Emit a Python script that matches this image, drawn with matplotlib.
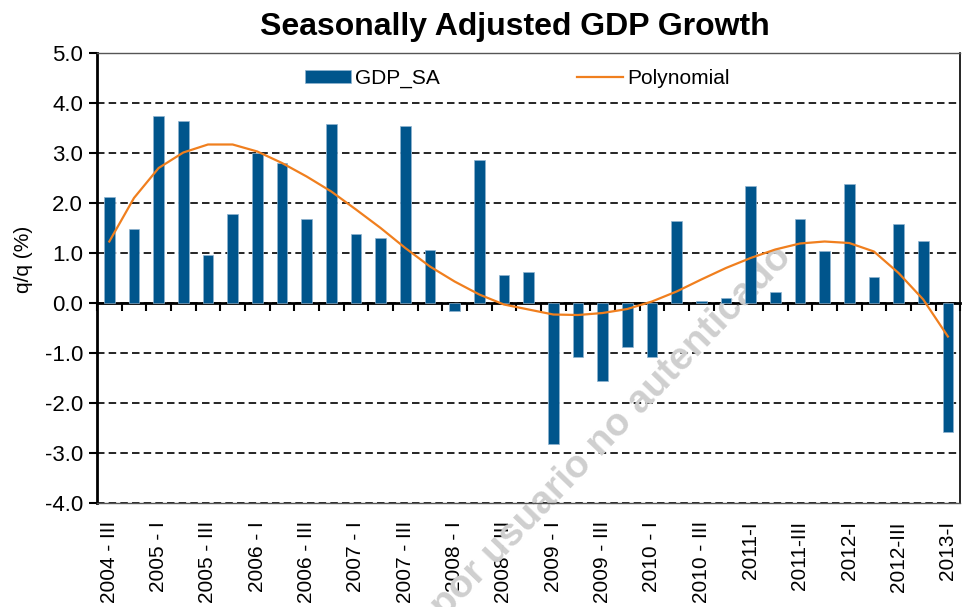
import matplotlib
matplotlib.use("Agg")
import matplotlib.pyplot as plt
import numpy as np

# quarterly growth, 2004-III .. 2013-I
gdp_sa = [2.13, 1.49, 3.74, 3.64, 0.97, 1.79, 2.99, 2.79, 1.69, 3.57,
          1.39, 1.31, 3.54, 1.07, -0.15, 2.85, 0.56, 0.63, -2.82, -1.07,
          -1.55, -0.87, -1.07, 1.65, 0.05, 0.11, 2.34, 0.22, 1.69, 1.05,
          2.38, 0.53, 1.59, 1.25, -2.58]
# trend line
poly = [1.23, 2.10, 2.70, 3.01, 3.17, 3.17, 3.03, 2.80, 2.53, 2.23,
        1.87, 1.50, 1.10, 0.73, 0.43, 0.17, -0.03, -0.13, -0.23, -0.24,
        -0.20, -0.12, 0.03, 0.23, 0.47, 0.70, 0.90, 1.07, 1.19, 1.23,
        1.20, 1.03, 0.60, 0.07, -0.67]
tick_labels = ["2004 - III", "2005 - I", "2005 - III", "2006 - I", "2006 - III",
               "2007 - I", "2007 - III", "2008 - I", "2008 - III", "2009 - I",
               "2009 - III", "2010 - I", "2010 - III", "2011-I", "2011-III",
               "2012-I", "2012-III", "2013-I"]

plt.rcParams['font.family'] = ['Liberation Sans', 'DejaVu Sans']
plt.rcParams['axes.unicode_minus'] = False

fig = plt.figure(figsize=(9.64, 6.07), dpi=100)
ax = fig.add_axes([0.1006, 0.1713, 0.8955, 0.7414])

x = np.arange(len(gdp_sa))
bars = ax.bar(x, gdp_sa, width=0.43, color='#00558c', edgecolor='#8fb4d0',
              linewidth=0.5, label='GDP_SA', zorder=3)
line, = ax.plot(x, poly, color='#f07f1e', lw=1.6, label='Polynomial', zorder=4)

ax.set_xlim(-0.5, len(gdp_sa) - 0.5)
ax.set_ylim(-4, 5)
ax.set_yticks(np.arange(-4, 5.1, 1))
ax.yaxis.set_major_formatter('{x:.1f}')
ax.set_xticks(x[::2])
ax.set_xticklabels(tick_labels, rotation=90)
ax.tick_params(axis='x', length=0, pad=13, labelsize=15)
ax.tick_params(axis='y', direction='out', length=6, width=1.5, labelsize=16, pad=4)
ax.grid(axis='y', ls=(0, (4.5, 2.5)), color='black', lw=1.2)
ax.set_axisbelow(True)

ax.spines['left'].set_linewidth(2)
ax.spines['right'].set_linewidth(1.2)
for s in ['top', 'bottom']:
    ax.spines[s].set_linewidth(1)
    ax.spines[s].set_color('#555555')

# category axis crossing at zero, ticks between categories
zero = ax.secondary_xaxis(4 / 9)
zero.set_xticks(np.arange(-0.5, len(gdp_sa), 1))
zero.tick_params(direction='out', length=6, width=1.5, labelbottom=False)
zero.spines['bottom'].set_linewidth(2)

fig.text(0.534, 0.955, 'Seasonally Adjusted GDP Growth', ha='center', va='center',
         fontsize=23, weight='bold')
fig.text(0.024, 0.572, 'q/q (%)', rotation=90, ha='center', va='center', fontsize=15)

ax.legend([bars, line], ['GDP_SA', 'Polynomial'], loc='center',
          bbox_to_anchor=(0.487, 0.944), ncol=2, frameon=False,
          fontsize=15, handlelength=2.2, handleheight=0.6, handletextpad=0.2,
          columnspacing=6.6)

ax.text(0.822, 0.575, 'Impreso por usuario no autenticado', transform=fig.transFigure,
        rotation=46, rotation_mode='anchor', ha='right', va='baseline',
        fontsize=28, weight='bold', color='#cfcfcf', clip_on=False, zorder=1)

fig.savefig('out.png', dpi=100)
